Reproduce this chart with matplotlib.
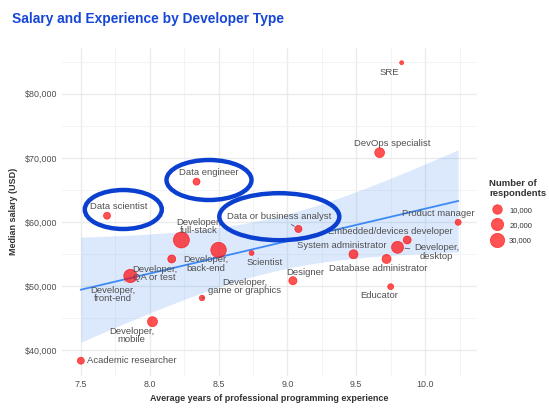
import numpy as np
import matplotlib.pyplot as plt
from matplotlib.patches import Ellipse
from matplotlib.lines import Line2D
from matplotlib.ticker import FuncFormatter, MultipleLocator

plt.rcParams['font.family'] = ['Liberation Sans', 'DejaVu Sans']

dev_types = [
    "SRE", "DevOps specialist", "Data engineer", "Data scientist",
    "Developer, full-stack", "Developer, back-end", "Developer, QA or test",
    "Developer, front-end", "Scientist", "Developer, game or graphics",
    "Developer, mobile", "Academic researcher", "Data or business analyst",
    "Product manager", "Embedded/devices developer", "Developer, desktop",
    "System administrator", "Database administrator", "Designer", "Educator",
]
years = [9.83, 9.67, 8.34, 7.69, 8.23, 8.50, 8.16, 7.86, 8.74, 8.38,
         8.02, 7.50, 9.08, 10.24, 9.87, 9.80, 9.48, 9.72, 9.04, 9.75]
salary = [84850, 70810, 66290, 60980, 57190, 55630, 54230, 51580, 55160, 48140,
          44450, 38360, 58910, 59950, 57190, 56050, 54960, 54230, 50840, 49910]
respondents = [2000, 11000, 4400, 4400, 40000, 37000, 6200, 25300, 2200, 2600,
               11500, 4400, 4600, 3050, 6200, 18900, 8600, 8600, 6500, 3000]
legend_counts = [10000, 20000, 30000]

# label placement (pixels: right, up) relative to the point
label_offsets = {
    "SRE": (-12, -10), "DevOps specialist": (13, 9.5), "Data engineer": (12, 9),
    "Data scientist": (12, 9.5), "Developer, full-stack": (17, 13.5),
    "Developer, back-end": (-13, -14), "Developer, QA or test": (-17, -14.5),
    "Developer, front-end": (-17.5, -18.5), "Scientist": (13, -9.5),
    "Developer, game or graphics": (42.5, 11.5), "Developer, mobile": (-21, -14),
    "Academic researcher": (6, 0), "Data or business analyst": (-19.5, 12.5),
    "Product manager": (-19.5, 8.5), "Embedded/devices developer": (-16.5, 8.7),
    "Developer, desktop": (39, -4.7), "System administrator": (-12, 8.3),
    "Database administrator": (-8.7, -9.7), "Designer": (12.3, 8.7),
    "Educator": (-11.7, -9.3),
}
leader_lines = ["Developer, front-end", "Developer, game or graphics",
                "Data or business analyst", "Developer, desktop"]

x = np.array(years)
y = np.array(salary)
n = np.array(respondents)
n_min, n_max = n.min(), n.max()


def radius_px(count):
    # area scale like ggplot's scale_size: 2 px to 8 px radius
    return 2 + np.sqrt((np.asarray(count) - n_min) / (n_max - n_min)) * 6


def diam_pt(count):
    return 2 * radius_px(count) * 0.72


W, H = 549, 413
fig = plt.figure(figsize=(W / 100, H / 100), dpi=100)
ax = fig.add_axes([62 / W, 1 - 375.6 / H, (477 - 62) / W, (375.6 - 47.8) / H])

for s in ax.spines.values():
    s.set_visible(False)
ax.xaxis.set_major_locator(MultipleLocator(0.5))
ax.xaxis.set_minor_locator(MultipleLocator(0.25))
ax.yaxis.set_major_locator(MultipleLocator(10000))
ax.yaxis.set_minor_locator(MultipleLocator(5000))
ax.yaxis.set_major_formatter(FuncFormatter(lambda v, p: f"${v:,.0f}"))
ax.grid(True, which='major', color='#ebebeb', lw=1.0)
ax.grid(True, which='minor', color='#f3f3f3', lw=0.7)
ax.set_axisbelow(True)
ax.tick_params(which='both', length=0, labelsize=6.4, labelcolor='#4d4d4d', pad=3)

# linear fit with 95% confidence band
b, a = np.polyfit(x, y, 1)
xs = np.linspace(x.min(), x.max(), 80)
resid = y - (a + b * x)
dof = len(x) - 2
s_err = np.sqrt(np.sum(resid ** 2) / dof)
sxx = np.sum((x - x.mean()) ** 2)
se = s_err * np.sqrt(1 / len(x) + (xs - x.mean()) ** 2 / sxx)
t_crit = 2.093  # t(0.975, 19)
fit = a + b * xs
ax.fill_between(xs, fit - t_crit * se, fit + t_crit * se, color='#3d8af7', alpha=0.18, lw=0, zorder=1)
ax.plot(xs, fit, color='#3d8af7', lw=1.3, zorder=2)

ax.scatter(x, y, s=diam_pt(n) ** 2, facecolor=(1, 0, 0, 0.68), edgecolor=(1, 0, 0, 0.7),
           lw=0.5, zorder=3)

for name, xi, yi, ni in zip(dev_types, x, y, n):
    label = name.replace("Developer, ", "Developer,\n")
    dx, dy = label_offsets[name]
    ha = 'left' if name == "Academic researcher" else 'center'
    arrow = None
    if name in leader_lines:
        arrow = dict(arrowstyle='-', color='#555555', lw=0.6, shrinkA=1,
                     shrinkB=radius_px(ni) * 0.72 + 1)
    ax.annotate(label, (xi, yi), xytext=(dx, dy), textcoords='offset pixels',
                ha=ha, va='center', fontsize=6.8, color='#505050', linespacing=0.95,
                arrowprops=arrow, zorder=4)

pad_x = 0.05 * (x.max() - x.min())
pad_y = 0.05 * (y.max() - y.min())
ax.set_xlim(x.min() - pad_x, x.max() + pad_x)
ax.set_ylim(y.min() - pad_y, y.max() + pad_y)

ax.set_xlabel("Average years of professional programming experience", fontsize=6.5,
              fontweight='bold', color='#333333', labelpad=4)
ax.set_ylabel("Median salary (USD)", fontsize=6.5, fontweight='bold', color='#333333', labelpad=5)

fig.text(12 / W, 1 - 19 / H, "Salary and Experience by Developer Type", fontsize=9.9,
         fontweight='bold', color='#1646d6', va='center', ha='left')

handles = [Line2D([], [], ls='', marker='o', markersize=diam_pt(c),
                  markerfacecolor=(1, 0, 0, 0.68), markeredgecolor=(1, 0, 0, 0.7),
                  markeredgewidth=0.5) for c in legend_counts]
leg = ax.legend(handles, [f"{c:,}" for c in legend_counts], title="Number of\nrespondents",
                loc='upper left', bbox_to_anchor=(487 / W, 1 - 177 / H),
                bbox_transform=fig.transFigure, frameon=False, fontsize=5.5,
                title_fontsize=6.8, labelspacing=1.05, handletextpad=0.6,
                alignment='left', borderaxespad=0, borderpad=0.3)
leg.get_title().set_fontweight('bold')
leg.get_title().set_color('#333333')
leg.get_title().set_linespacing(1.15)
for t in leg.get_texts():
    t.set_color('#333333')

# hand-drawn highlight rings
for cx, cy, w, h in [(123.3, 209.5, 77, 39), (209, 180, 85, 40), (279.3, 216.7, 120, 47)]:
    fig.add_artist(Ellipse((cx / W, 1 - cy / H), w / W, h / H, transform=fig.transFigure,
                           fill=False, edgecolor='#0a3fd0', lw=3.2, zorder=10))

fig.savefig("out.png", dpi=100)
